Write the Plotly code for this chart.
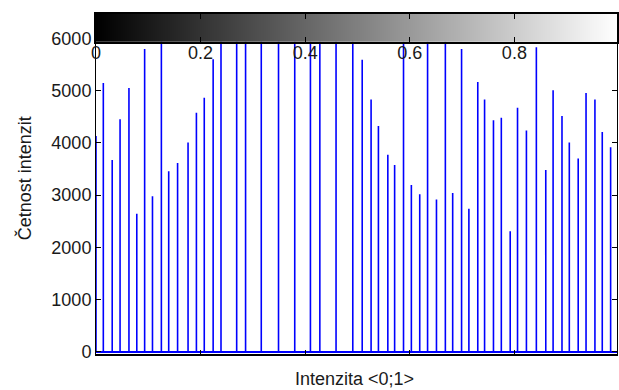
import plotly.graph_objects as go

# ---- data ----
intensity = [0.000, 0.014, 0.031, 0.046, 0.063, 0.078, 0.093, 0.108, 0.125, 0.139,
             0.156, 0.176, 0.192, 0.207, 0.224, 0.239, 0.269, 0.286, 0.316, 0.349,
             0.380, 0.410, 0.428, 0.459, 0.491, 0.509, 0.526, 0.540, 0.558, 0.571,
             0.588, 0.603, 0.619, 0.634, 0.651, 0.668, 0.682, 0.699, 0.713, 0.730,
             0.743, 0.760, 0.775, 0.792, 0.806, 0.823, 0.842, 0.860, 0.874, 0.891,
             0.905, 0.922, 0.937, 0.954, 0.968, 0.984]
counts = [4131, 5145, 3670, 4449, 5050, 2645, 5797, 2980, 7400, 3455,
          3613, 4006, 4576, 4861, 5601, 6900, 7800, 8300, 9100, 9800,
          10200, 9900, 9300, 8600, 7600, 5588, 4829, 4322, 3771, 3575,
          6400, 3195, 3018, 6700, 2917, 6300, 3038, 5797, 2740, 5164,
          4829, 4430, 4481, 2309, 4671, 4234, 5829, 3480, 5005, 4512,
          4006, 3702, 4955, 4829, 4208, 3917]
y_ticks = [0, 1000, 2000, 3000, 4000, 5000, 6000]
bar_ticks = [0, 0.2, 0.4, 0.6, 0.8]
bar_tick_labels = ["0", "0.2", "0.4", "0.6", "0.8"]
gray_levels = list(range(256))

W, H = 619, 390
L, R, T, B = 96, 0, 14, 36
ph = H - T - B
main_top = (H - B - 38.3) / ph
bar_bottom = (H - B - 41.7) / ph
x_max = (W - L) / 525.0

FONT = "Liberation Sans, Arial, sans-serif"
TXT = "#1a1a1a"

xs, ys = [], []
for v, c in zip(intensity, counts):
    xs += [v, v, None]
    ys += [0, c, None]

fig = go.Figure()
fig.add_trace(go.Scatter(x=[0, 1], y=[0, 0], mode="lines",
                         line=dict(color="#0000ff", width=2), hoverinfo="skip",
                         showlegend=False))
fig.add_trace(go.Scatter(x=xs, y=ys, mode="lines",
                         line=dict(color="#0000ff", width=1.6), hoverinfo="skip",
                         showlegend=False))
fig.add_trace(go.Heatmap(z=[gray_levels], x0=1 / 512, dx=1 / 256, y=[0.5],
                         colorscale=[[0, "black"], [1, "white"]], zmin=0, zmax=255,
                         showscale=False, hoverinfo="skip", xaxis="x2", yaxis="y2"))

fig.update_layout(
    width=W, height=H, margin=dict(l=L, r=R, t=T, b=B),
    paper_bgcolor="white", plot_bgcolor="white",
    font=dict(family=FONT, size=18, color=TXT),
    xaxis=dict(domain=[0, 1], range=[0, x_max], showgrid=False, zeroline=False,
               showline=True, linecolor="black", linewidth=1.5,
               ticks="inside", ticklen=4, tickcolor="black",
               tickvals=bar_ticks, showticklabels=False, anchor="y"),
    yaxis=dict(domain=[0, main_top], range=[-40, 6000], showgrid=False, zeroline=False,
               showline=True, linecolor="black", linewidth=1, mirror="ticks",
               ticks="inside", ticklen=5, tickcolor="black",
               tickvals=y_ticks, ticktext=[str(t) for t in y_ticks],
               tickfont=dict(size=18, color=TXT), anchor="x"),
    xaxis2=dict(domain=[0, 1], range=[0, x_max], anchor="y2", showgrid=False,
                zeroline=False, showline=True, linecolor="black", linewidth=1.5,
                mirror="ticks", ticks="inside", ticklen=5, tickcolor="black",
                tickvals=bar_ticks, ticktext=bar_tick_labels, side="bottom",
                ticklabelstandoff=-6,
                tickfont=dict(size=18, color=TXT)),
    yaxis2=dict(domain=[bar_bottom, 1], range=[0, 1], anchor="x2", showgrid=False,
                zeroline=False, showline=True, linecolor="black", linewidth=2,
                mirror=True, ticks="", showticklabels=False),
    annotations=[
        dict(text="Četnost intenzit", textangle=-90, xref="paper", yref="paper",
             x=(25 - L) / (W - L), y=(H - B - 178) / ph, xanchor="center",
             yanchor="middle", showarrow=False, font=dict(size=18, color=TXT)),
        dict(text="Intenzita &lt;0;1&gt;", xref="paper", yref="paper",
             x=(355 - L) / (W - L), y=(H - B - 379) / ph, xanchor="center",
             yanchor="middle", showarrow=False, font=dict(size=18, color=TXT)),
    ],
)

fig.write_html("out.html")
